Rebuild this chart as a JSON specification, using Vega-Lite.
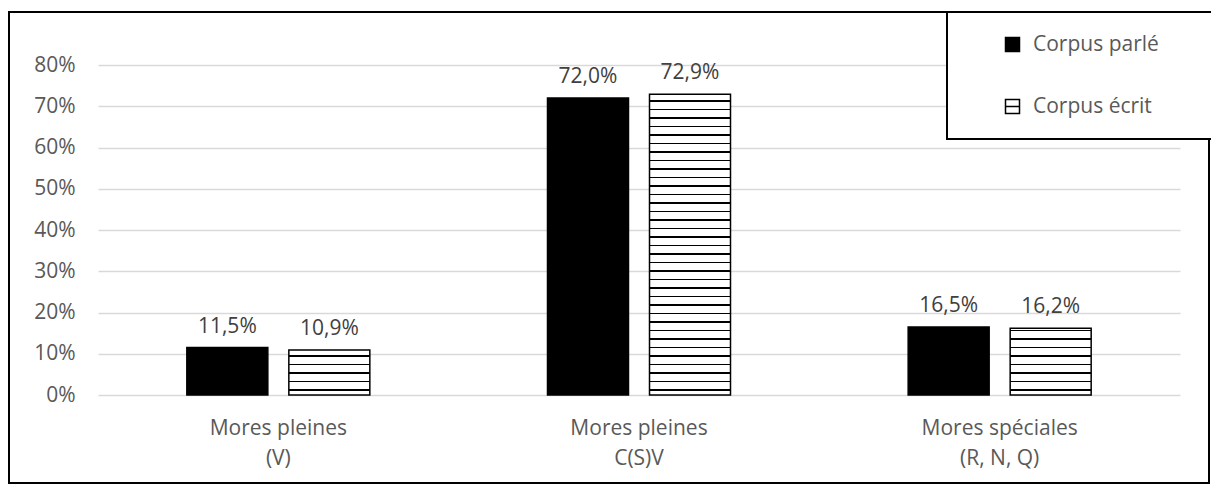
{
  "$schema": "https://vega.github.io/schema/vega-lite/v6.json",
  "width": 1082,
  "height": 330,
  "padding": {"left": 8, "top": 11, "right": 0, "bottom": 0},
  "background": "white",
  "config": {
    "font": "Open Sans",
    "view": {"stroke": null},
    "locale": {"number": {"decimal": ",", "thousands": " ", "grouping": [3], "currency": ["", " €"]}},
    "legend": {"strokeWidth": 2}
  },
  "datasets": {
    "bars": [
      {"cat": "Mores pleines\n(V)", "series": "Corpus parlé", "value": 0.115},
      {"cat": "Mores pleines\n(V)", "series": "Corpus écrit", "value": 0.109},
      {"cat": "Mores pleines\nC(S)V", "series": "Corpus parlé", "value": 0.720},
      {"cat": "Mores pleines\nC(S)V", "series": "Corpus écrit", "value": 0.729},
      {"cat": "Mores spéciales\n(R, N, Q)", "series": "Corpus parlé", "value": 0.165},
      {"cat": "Mores spéciales\n(R, N, Q)", "series": "Corpus écrit", "value": 0.162}
    ]
  },
  "layer": [
    {
      "data": {"values": [{"frame": "chart"}]},
      "mark": {"type": "rect", "fill": "white", "fillOpacity": 0, "stroke": "black", "strokeWidth": 2,
               "xOffset": -89, "x2Offset": 29, "yOffset": -53, "y2Offset": 88},
      "encoding": {
        "x": {"value": 0},
        "x2": {"value": "width"},
        "y": {"value": 0},
        "y2": {"value": "height"}
      }
    },
    {
      "data": {"name": "bars"},
      "mark": {"type": "bar", "stroke": "black", "strokeWidth": 1.5},
      "encoding": {
        "x": {
          "field": "cat", "type": "nominal", "sort": null,
          "scale": {"domain": ["Mores pleines\n(V)", "Mores pleines\nC(S)V", "Mores spéciales\n(R, N, Q)"], "paddingInner": 0.4926, "paddingOuter": 0.2463},
          "axis": {
            "title": null, "labelAngle": 0, "domain": false, "ticks": false,
            "labelPadding": 22, "labelFontSize": 21, "labelColor": "#595959",
            "labelLineHeight": 30, "labelExpr": "split(datum.label, '\\n')"
          }
        },
        "y": {
          "field": "value", "type": "quantitative",
          "scale": {"domain": [0, 0.8]},
          "axis": {
            "title": null, "values": [0, 0.1, 0.2, 0.3, 0.4, 0.5, 0.6, 0.7, 0.8],
            "format": ".0%", "domain": false, "ticks": false, "labelPadding": 23,
            "labelFontSize": 21, "labelColor": "#595959",
            "gridColor": "#d9d9d9", "gridWidth": 1.5
          }
        },
        "xOffset": {"field": "series", "sort": null, "scale": {"paddingInner": 0.206, "paddingOuter": 0}},
        "fill": {
          "field": "series", "type": "nominal", "sort": null,
          "scale": {"range": ["#000000", "#ffffff"]},
          "condition": [
            {"test": "datum.series === 'Corpus écrit' && datum.value === 0.109",
             "value": {"gradient": "linear", "x1": 0, "y1": 0, "x2": 0, "y2": 1, "stops": [
              {"offset": 0, "color": "white"},
              {"offset": 0.1148, "color": "white"}, {"offset": 0.1148, "color": "black"}, {"offset": 0.1504, "color": "black"}, {"offset": 0.1504, "color": "white"},
              {"offset": 0.3038, "color": "white"}, {"offset": 0.3038, "color": "black"}, {"offset": 0.3394, "color": "black"}, {"offset": 0.3394, "color": "white"},
              {"offset": 0.4929, "color": "white"}, {"offset": 0.4929, "color": "black"}, {"offset": 0.5285, "color": "black"}, {"offset": 0.5285, "color": "white"},
              {"offset": 0.6819, "color": "white"}, {"offset": 0.6819, "color": "black"}, {"offset": 0.7175, "color": "black"}, {"offset": 0.7175, "color": "white"},
              {"offset": 0.8710, "color": "white"}, {"offset": 0.8710, "color": "black"}, {"offset": 0.9066, "color": "black"}, {"offset": 0.9066, "color": "white"},
              {"offset": 1, "color": "white"}
             ]}},
            {"test": "datum.series === 'Corpus écrit' && datum.value === 0.729",
             "value": {"gradient": "linear", "x1": 0, "y1": 0, "x2": 0, "y2": 1, "stops": [
              {"offset": 0, "color": "white"},
              {"offset": 0.0196, "color": "white"}, {"offset": 0.0196, "color": "black"}, {"offset": 0.0250, "color": "black"}, {"offset": 0.0250, "color": "white"},
              {"offset": 0.0479, "color": "white"}, {"offset": 0.0479, "color": "black"}, {"offset": 0.0533, "color": "black"}, {"offset": 0.0533, "color": "white"},
              {"offset": 0.0762, "color": "white"}, {"offset": 0.0762, "color": "black"}, {"offset": 0.0816, "color": "black"}, {"offset": 0.0816, "color": "white"},
              {"offset": 0.1044, "color": "white"}, {"offset": 0.1044, "color": "black"}, {"offset": 0.1098, "color": "black"}, {"offset": 0.1098, "color": "white"},
              {"offset": 0.1327, "color": "white"}, {"offset": 0.1327, "color": "black"}, {"offset": 0.1381, "color": "black"}, {"offset": 0.1381, "color": "white"},
              {"offset": 0.1610, "color": "white"}, {"offset": 0.1610, "color": "black"}, {"offset": 0.1664, "color": "black"}, {"offset": 0.1664, "color": "white"},
              {"offset": 0.1892, "color": "white"}, {"offset": 0.1892, "color": "black"}, {"offset": 0.1946, "color": "black"}, {"offset": 0.1946, "color": "white"},
              {"offset": 0.2175, "color": "white"}, {"offset": 0.2175, "color": "black"}, {"offset": 0.2229, "color": "black"}, {"offset": 0.2229, "color": "white"},
              {"offset": 0.2458, "color": "white"}, {"offset": 0.2458, "color": "black"}, {"offset": 0.2512, "color": "black"}, {"offset": 0.2512, "color": "white"},
              {"offset": 0.2740, "color": "white"}, {"offset": 0.2740, "color": "black"}, {"offset": 0.2794, "color": "black"}, {"offset": 0.2794, "color": "white"},
              {"offset": 0.3023, "color": "white"}, {"offset": 0.3023, "color": "black"}, {"offset": 0.3077, "color": "black"}, {"offset": 0.3077, "color": "white"},
              {"offset": 0.3305, "color": "white"}, {"offset": 0.3305, "color": "black"}, {"offset": 0.3359, "color": "black"}, {"offset": 0.3359, "color": "white"},
              {"offset": 0.3588, "color": "white"}, {"offset": 0.3588, "color": "black"}, {"offset": 0.3642, "color": "black"}, {"offset": 0.3642, "color": "white"},
              {"offset": 0.3871, "color": "white"}, {"offset": 0.3871, "color": "black"}, {"offset": 0.3925, "color": "black"}, {"offset": 0.3925, "color": "white"},
              {"offset": 0.4153, "color": "white"}, {"offset": 0.4153, "color": "black"}, {"offset": 0.4207, "color": "black"}, {"offset": 0.4207, "color": "white"},
              {"offset": 0.4436, "color": "white"}, {"offset": 0.4436, "color": "black"}, {"offset": 0.4490, "color": "black"}, {"offset": 0.4490, "color": "white"},
              {"offset": 0.4719, "color": "white"}, {"offset": 0.4719, "color": "black"}, {"offset": 0.4773, "color": "black"}, {"offset": 0.4773, "color": "white"},
              {"offset": 0.5001, "color": "white"}, {"offset": 0.5001, "color": "black"}, {"offset": 0.5055, "color": "black"}, {"offset": 0.5055, "color": "white"},
              {"offset": 0.5284, "color": "white"}, {"offset": 0.5284, "color": "black"}, {"offset": 0.5338, "color": "black"}, {"offset": 0.5338, "color": "white"},
              {"offset": 0.5567, "color": "white"}, {"offset": 0.5567, "color": "black"}, {"offset": 0.5621, "color": "black"}, {"offset": 0.5621, "color": "white"},
              {"offset": 0.5849, "color": "white"}, {"offset": 0.5849, "color": "black"}, {"offset": 0.5903, "color": "black"}, {"offset": 0.5903, "color": "white"},
              {"offset": 0.6132, "color": "white"}, {"offset": 0.6132, "color": "black"}, {"offset": 0.6186, "color": "black"}, {"offset": 0.6186, "color": "white"},
              {"offset": 0.6415, "color": "white"}, {"offset": 0.6415, "color": "black"}, {"offset": 0.6469, "color": "black"}, {"offset": 0.6469, "color": "white"},
              {"offset": 0.6697, "color": "white"}, {"offset": 0.6697, "color": "black"}, {"offset": 0.6751, "color": "black"}, {"offset": 0.6751, "color": "white"},
              {"offset": 0.6980, "color": "white"}, {"offset": 0.6980, "color": "black"}, {"offset": 0.7034, "color": "black"}, {"offset": 0.7034, "color": "white"},
              {"offset": 0.7263, "color": "white"}, {"offset": 0.7263, "color": "black"}, {"offset": 0.7317, "color": "black"}, {"offset": 0.7317, "color": "white"},
              {"offset": 0.7545, "color": "white"}, {"offset": 0.7545, "color": "black"}, {"offset": 0.7599, "color": "black"}, {"offset": 0.7599, "color": "white"},
              {"offset": 0.7828, "color": "white"}, {"offset": 0.7828, "color": "black"}, {"offset": 0.7882, "color": "black"}, {"offset": 0.7882, "color": "white"},
              {"offset": 0.8111, "color": "white"}, {"offset": 0.8111, "color": "black"}, {"offset": 0.8165, "color": "black"}, {"offset": 0.8165, "color": "white"},
              {"offset": 0.8393, "color": "white"}, {"offset": 0.8393, "color": "black"}, {"offset": 0.8447, "color": "black"}, {"offset": 0.8447, "color": "white"},
              {"offset": 0.8676, "color": "white"}, {"offset": 0.8676, "color": "black"}, {"offset": 0.8730, "color": "black"}, {"offset": 0.8730, "color": "white"},
              {"offset": 0.8959, "color": "white"}, {"offset": 0.8959, "color": "black"}, {"offset": 0.9013, "color": "black"}, {"offset": 0.9013, "color": "white"},
              {"offset": 0.9241, "color": "white"}, {"offset": 0.9241, "color": "black"}, {"offset": 0.9295, "color": "black"}, {"offset": 0.9295, "color": "white"},
              {"offset": 0.9524, "color": "white"}, {"offset": 0.9524, "color": "black"}, {"offset": 0.9578, "color": "black"}, {"offset": 0.9578, "color": "white"},
              {"offset": 0.9807, "color": "white"}, {"offset": 0.9807, "color": "black"}, {"offset": 0.9861, "color": "black"}, {"offset": 0.9861, "color": "white"},
              {"offset": 1, "color": "white"}
             ]}},
            {"test": "datum.series === 'Corpus écrit' && datum.value === 0.162",
             "value": {"gradient": "linear", "x1": 0, "y1": 0, "x2": 0, "y2": 1, "stops": [
              {"offset": 0, "color": "white"},
              {"offset": 0.0229, "color": "white"}, {"offset": 0.0229, "color": "black"}, {"offset": 0.0469, "color": "black"}, {"offset": 0.0469, "color": "white"},
              {"offset": 0.1501, "color": "white"}, {"offset": 0.1501, "color": "black"}, {"offset": 0.1741, "color": "black"}, {"offset": 0.1741, "color": "white"},
              {"offset": 0.2772, "color": "white"}, {"offset": 0.2772, "color": "black"}, {"offset": 0.3012, "color": "black"}, {"offset": 0.3012, "color": "white"},
              {"offset": 0.4044, "color": "white"}, {"offset": 0.4044, "color": "black"}, {"offset": 0.4284, "color": "black"}, {"offset": 0.4284, "color": "white"},
              {"offset": 0.5316, "color": "white"}, {"offset": 0.5316, "color": "black"}, {"offset": 0.5556, "color": "black"}, {"offset": 0.5556, "color": "white"},
              {"offset": 0.6588, "color": "white"}, {"offset": 0.6588, "color": "black"}, {"offset": 0.6828, "color": "black"}, {"offset": 0.6828, "color": "white"},
              {"offset": 0.7860, "color": "white"}, {"offset": 0.7860, "color": "black"}, {"offset": 0.8100, "color": "black"}, {"offset": 0.8100, "color": "white"},
              {"offset": 0.9132, "color": "white"}, {"offset": 0.9132, "color": "black"}, {"offset": 0.9372, "color": "black"}, {"offset": 0.9372, "color": "white"},
              {"offset": 1, "color": "white"}
             ]}}
          ],
          "legend": {
            "title": " ", "titleOrient": "right", "titlePadding": 32,
            "orient": "none", "legendX": 849, "legendY": -53,
            "padding": 22, "symbolOffset": 33, "rowPadding": 40,
            "strokeColor": "black", "fillColor": "white",
            "symbolType": "square", "symbolSize": 196,
            "symbolStrokeColor": "black", "symbolStrokeWidth": 1.5,
            "labelFontSize": 21, "labelColor": "#595959", "labelOffset": 10,
            "labelFont": "Open Sans",
            "encode": {
              "symbols": {
                "update": {
                  "shape": {"signal": "datum.value === 'Corpus écrit' ? 'M-1,-1H1V1H-1ZM-1,0H1' : 'square'"},
                  "stroke": {"value": "black"}
                }
              }
            }
          }
        }
      }
    },
    {
      "data": {"name": "bars"},
      "mark": {"type": "text", "baseline": "alphabetic", "dy": -15, "fontSize": 21, "color": "#404040"},
      "encoding": {
        "x": {"field": "cat", "type": "nominal", "sort": null},
        "y": {"field": "value", "type": "quantitative"},
        "xOffset": {"field": "series", "sort": null},
        "text": {"field": "value", "type": "quantitative", "format": ".1%"}
      }
    }
  ]
}
